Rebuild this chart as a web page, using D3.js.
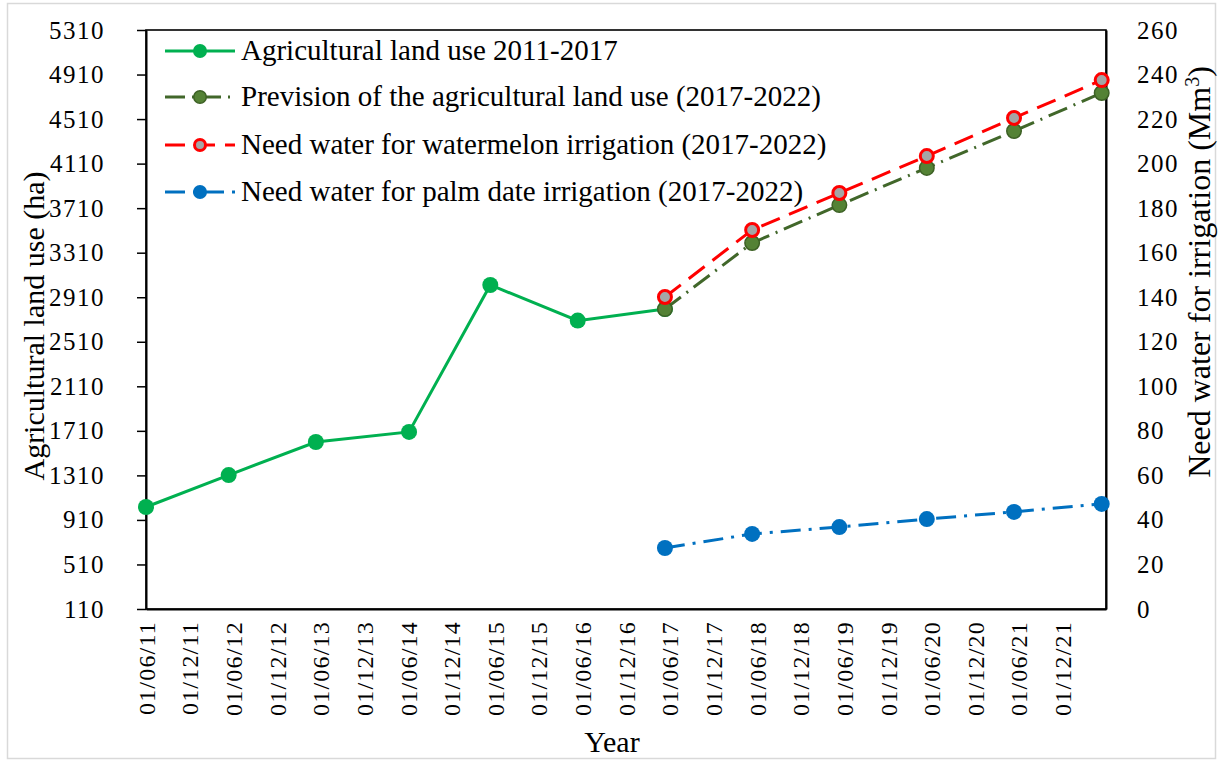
<!DOCTYPE html>
<html>
<head>
<meta charset="utf-8">
<script src="https://cdn.jsdelivr.net/npm/d3@7"></script>
<style>
  body { margin: 0; background: #fff; }
  svg { display: block; }
</style>
</head>
<body>
<svg id="chart" width="1223" height="763"></svg>
<script>
// observed data (dates of each yearly point)
let histDates = ["2011-06-01", "2012-05-12", "2013-05-12", "2014-06-06", "2015-05-12", "2016-05-12", "2017-05-12"];
let histLand = [1026, 1313, 1610, 1700, 3020, 2700, 2804];

let prevDates = ["2017-05-12", "2018-05-12", "2019-05-12", "2020-05-12", "2021-05-12", "2022-05-14"];
let prevLand = [2804, 3397, 3738, 4071, 4403, 4744];
let watermelonWater = [140.1, 170.2, 186.8, 203.4, 220.5, 237.5];
let palmWater = [27.4, 33.7, 36.8, 40.4, 43.6, 47.2];

let leftTicks = d3.range(110, 5311, 400);
let rightTicks = d3.range(0, 261, 20);
let xStart = new Date(2011, 5, 1), xEnd = new Date(2022, 5, 1);
let xTicks = d3.timeMonth.range(xStart, new Date(2022, 0, 1), 6);

let legendLabels = [
	"Agricultural land use 2011-2017",
	"Prevision of the agricultural land use (2017-2022)",
	"Need water for watermelon irrigation (2017-2022)",
	"Need water for palm date irrigation (2017-2022)"
];

let parse = d3.timeParse("%Y-%m-%d");
let fmt = d3.timeFormat("%d/%m/%y");

let m = {left: 146, right: 1106, top: 30, bottom: 609};
let svg = d3.select("#chart");

let x = d3.scaleTime().domain([xStart, xEnd]).range([m.left, m.right]);
let yL = d3.scaleLinear().domain([110, 5310]).range([m.bottom, m.top]);
let yR = d3.scaleLinear().domain([0, 260]).range([m.bottom, m.top]);

let serif = "'Liberation Serif', 'Times New Roman', serif";

// outer frame
svg.append("rect")
	.attr("x", 7.5).attr("y", 3.5)
	.attr("width", 1208).attr("height", 755)
	.attr("fill", "none").attr("stroke", "#d9d9d9").attr("stroke-width", 1.5);

// plot frame
svg.append("rect")
	.attr("x", m.left).attr("y", m.top)
	.attr("width", m.right - m.left).attr("height", m.bottom - m.top)
	.attr("fill", "none").attr("stroke", "#000").attr("stroke-width", 1.6);

// left axis
let gL = svg.append("g")
	.attr("transform", `translate(${m.left},0)`)
	.call(d3.axisLeft(yL).tickValues(leftTicks).tickFormat(d3.format("d"))
		.tickSize(9).tickSizeOuter(0).tickPadding(32));
gL.select(".domain").attr("stroke-width", 2);
gL.selectAll(".tick line").attr("stroke-width", 1.5);
gL.selectAll(".tick text").attr("font-family", serif).attr("font-size", 25).attr("fill", "#000")
	.attr("letter-spacing", 1.5);

// right axis
let gR = svg.append("g")
	.attr("transform", `translate(${m.right},0)`)
	.call(d3.axisRight(yR).tickValues(rightTicks).tickSize(0).tickSizeOuter(0).tickPadding(31));
gR.select(".domain").attr("stroke-width", 2);
gR.selectAll(".tick text").attr("font-family", serif).attr("font-size", 25).attr("fill", "#000")
	.attr("letter-spacing", 1.5);

// bottom axis labels (rotated)
let gX = svg.append("g")
	.attr("transform", `translate(0,${m.bottom})`)
	.call(d3.axisBottom(x).tickValues(xTicks).tickSize(0).tickSizeOuter(0).tickFormat(fmt));
gX.select(".domain").attr("stroke-width", 2);
gX.selectAll(".tick text")
	.attr("font-family", serif).attr("font-size", 24).attr("fill", "#000")
	.attr("letter-spacing", 1.2)
	.attr("text-anchor", "end")
	.attr("transform", "translate(0,12) rotate(-90)")
	.attr("x", 0).attr("y", 0).attr("dy", "0.34em");

// axis titles
svg.append("text")
	.attr("transform", "translate(44,326) rotate(-90)")
	.attr("text-anchor", "middle")
	.attr("font-family", serif).attr("font-size", 30)
	.text("Agricultural land use  (ha)");

let rt = svg.append("text")
	.attr("transform", "translate(1210,272) rotate(-90)")
	.attr("text-anchor", "middle")
	.attr("font-family", serif).attr("font-size", 32)
	.text("Need water for irrigation (Mm");
rt.append("tspan").attr("baseline-shift", "super").attr("font-size", 20).text("3");
rt.append("tspan").text(")");

svg.append("text")
	.attr("x", 612).attr("y", 752)
	.attr("text-anchor", "middle")
	.attr("font-family", serif).attr("font-size", 30)
	.text("Year");

// series
let series = [
	{dates: histDates, vals: histLand, y: yL, stroke: "#00b050", dash: null, fill: "#00b050", mstroke: "#00b050", mw: 0},
	{dates: prevDates, vals: prevLand, y: yL, stroke: "#41672a", dash: "20,7,2,7", fill: "#548235", mstroke: "#3d6125", mw: 1.5},
	{dates: prevDates, vals: watermelonWater, y: yR, stroke: "#ff0000", dash: "20,10", fill: "#a5a5a5", mstroke: "#ff0000", mw: 3},
	{dates: prevDates, vals: palmWater, y: yR, stroke: "#0070c0", dash: "20,8,3,8", fill: "#0070c0", mstroke: "#0070c0", mw: 0}
];

series.forEach(function(s) {
	let pts = s.dates.map((d, i) => [x(parse(d)), s.y(s.vals[i])]);
	svg.append("path")
		.attr("d", d3.line()(pts))
		.attr("fill", "none")
		.attr("stroke", s.stroke)
		.attr("stroke-width", 3)
		.attr("stroke-dasharray", s.dash);
	svg.append("g").selectAll("circle")
		.data(pts)
		.enter().append("circle")
		.attr("cx", (p) => p[0])
		.attr("cy", (p) => p[1])
		.attr("r", s.mw ? 8 - s.mw/2 : 8)
		.attr("fill", s.fill)
		.attr("stroke", s.mw ? s.mstroke : "none")
		.attr("stroke-width", s.mw);
});

// legend
let rows = [51, 97, 145, 192];
series.forEach(function(s, i) {
	let g = svg.append("g").attr("transform", `translate(0,${rows[i]})`);
	g.append("line")
		.attr("x1", 165).attr("x2", 235)
		.attr("stroke", s.stroke).attr("stroke-width", 3)
		.attr("stroke-dasharray", s.dash);
	g.append("circle")
		.attr("cx", 200).attr("r", s.mw ? 7 - s.mw/2 : 7)
		.attr("fill", s.fill)
		.attr("stroke", s.mw ? s.mstroke : "none")
		.attr("stroke-width", s.mw);
	g.append("text")
		.attr("x", 241).attr("y", 9)
		.attr("font-family", serif).attr("font-size", 29)
		.text(legendLabels[i]);
});
</script>
</body>
</html>
